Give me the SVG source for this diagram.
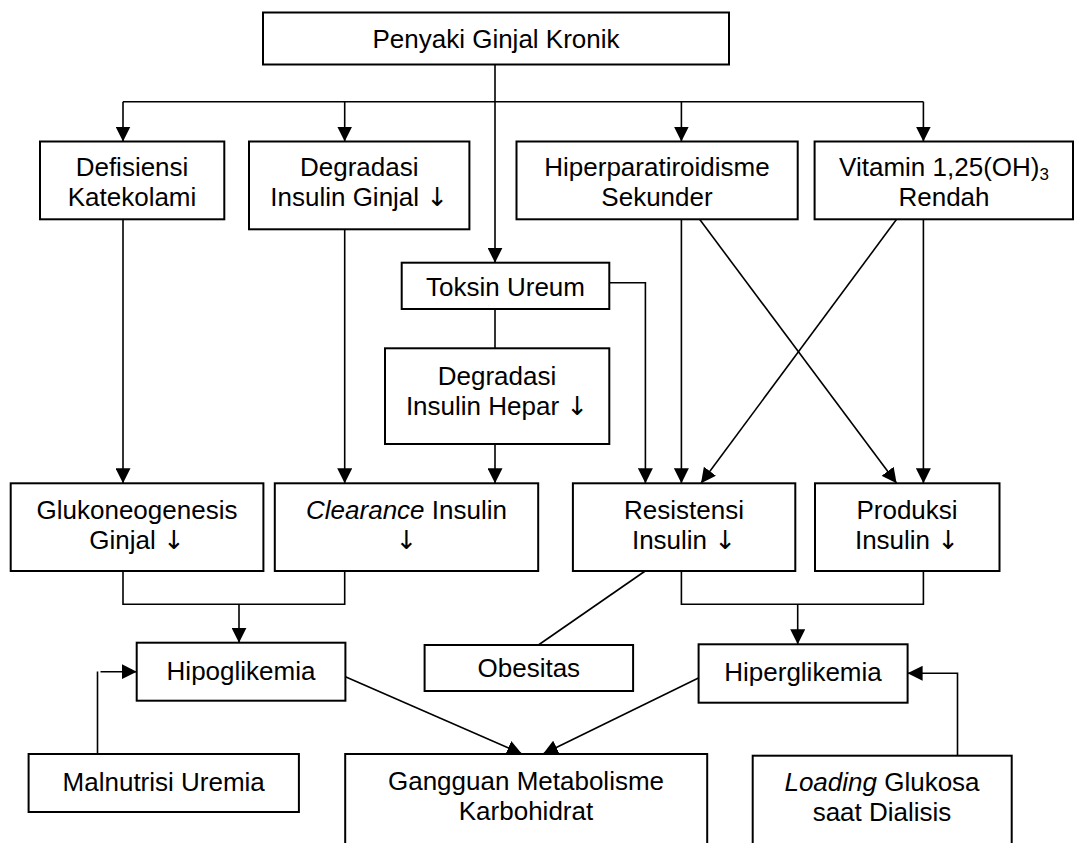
<svg xmlns="http://www.w3.org/2000/svg" width="1075" height="843" viewBox="0 0 1075 843">
<style>
.box{fill:#fff;stroke:#000;stroke-width:2}
.ln{fill:none;stroke:#000;stroke-width:1.6}
.arr{marker-end:url(#ah)}
text{font-family:"Liberation Sans",Arial,Helvetica,sans-serif;font-size:26px;fill:#000;text-anchor:middle}
.it{font-style:italic}
.dn{font-family:"DejaVu Sans",sans-serif;font-weight:normal;fill:#000}
</style>
<defs>
<marker id="ah" markerUnits="userSpaceOnUse" markerWidth="15" markerHeight="15" refX="15" refY="7.5" orient="auto" viewBox="0 0 15 15">
<path d="M0,0 L15,7.5 L0,15 z" fill="#000"/>
</marker>
</defs>
<rect width="1075" height="843" fill="#fff"/>

<g id="connectors">
<line class="ln arr" x1="495" y1="64.5" x2="495" y2="262.7"/>
<line class="ln" x1="123" y1="101.7" x2="923.4" y2="101.7"/>
<line class="ln arr" x1="123" y1="101.7" x2="123" y2="141.5"/>
<line class="ln arr" x1="344.7" y1="101.7" x2="344.7" y2="141.5"/>
<line class="ln arr" x1="681.4" y1="101.7" x2="681.4" y2="141.5"/>
<line class="ln arr" x1="923.4" y1="101.7" x2="923.4" y2="141.5"/>
<line class="ln" x1="495" y1="309" x2="495" y2="348.3"/>
<polyline class="ln arr" points="609.3,282.7 645.4,282.7 645.4,483.3"/>
<line class="ln arr" x1="495" y1="444" x2="495" y2="483.3"/>
<line class="ln arr" x1="123" y1="219.3" x2="123" y2="483.3"/>
<line class="ln arr" x1="344.7" y1="229.3" x2="344.7" y2="483.3"/>
<line class="ln arr" x1="681.4" y1="219.3" x2="681.4" y2="483.3"/>
<line class="ln arr" x1="896.6" y1="219.3" x2="701" y2="483.3"/>
<line class="ln arr" x1="699.6" y1="219.3" x2="896.6" y2="483.3"/>
<line class="ln arr" x1="923.4" y1="219.3" x2="923.4" y2="483.3"/>
<polyline class="ln" points="123,571 123,604.3 344.7,604.3 344.7,571"/>
<line class="ln arr" x1="239" y1="604.3" x2="239" y2="642.7"/>
<polyline class="ln" points="681.4,571 681.4,604.3 923.4,604.3 923.4,571"/>
<line class="ln arr" x1="797.7" y1="604.3" x2="797.7" y2="644.3"/>
<line class="ln" x1="645.2" y1="571" x2="538.4" y2="645"/>
<line class="ln" x1="97.5" y1="754" x2="97.5" y2="671.5"/>
<line class="ln arr" x1="100.5" y1="671.7" x2="136.7" y2="671.7"/>
<polyline class="ln arr" points="957.5,755.7 957.5,673.3 907.6,673.3"/>
<line class="ln arr" x1="345.4" y1="676.7" x2="522" y2="754"/>
<line class="ln arr" x1="701" y1="676.7" x2="543" y2="754"/>
</g>

<g id="n-pgk"><rect class="box" x="263" y="12.5" width="466" height="52"/><text x="496" y="47.5">Penyaki Ginjal Kronik</text></g>
<g id="n-defisiensi"><rect class="box" x="40" y="141.5" width="184.3" height="77.8"/><text x="132" y="176">Defisiensi</text><text x="132" y="206">Katekolami</text></g>
<g id="n-degginjal"><rect class="box" x="249" y="141.5" width="220.4" height="87.8"/><text x="359.2" y="176">Degradasi</text><text x="359.2" y="206">Insulin Ginjal <tspan class="dn">↓</tspan></text></g>
<g id="n-hiperpara"><rect class="box" x="516.5" y="141.5" width="281.2" height="77.8"/><text x="657" y="176">Hiperparatiroidisme</text><text x="657" y="206">Sekunder</text></g>
<g id="n-vitamin"><rect class="box" x="814.6" y="141.5" width="258.4" height="77.8"/><text x="944" y="176">Vitamin 1,25(OH)<tspan font-size="17" dy="4">3</tspan></text><text x="944" y="206">Rendah</text></g>
<g id="n-toksin"><rect class="box" x="401.7" y="262.7" width="207.6" height="46.3"/><text x="505.5" y="296">Toksin Ureum</text></g>
<g id="n-deghepar"><rect class="box" x="385" y="348.3" width="224.3" height="95.7"/><text x="497" y="385">Degradasi</text><text x="497" y="415">Insulin Hepar <tspan class="dn">↓</tspan></text></g>
<g id="n-gluko"><rect class="box" x="10.7" y="483.3" width="252.7" height="87.7"/><text x="137" y="519">Glukoneogenesis</text><text x="137" y="549">Ginjal <tspan class="dn">↓</tspan></text></g>
<g id="n-clearance"><rect class="box" x="274.8" y="483.3" width="263.4" height="87.7"/><text x="406.5" y="519"><tspan class="it">Clearance</tspan> Insulin</text><text x="406.5" y="549"><tspan class="dn">↓</tspan></text></g>
<g id="n-resistensi"><rect class="box" x="572.9" y="483.3" width="222.4" height="87.7"/><text x="684" y="519">Resistensi</text><text x="684" y="549">Insulin <tspan class="dn">↓</tspan></text></g>
<g id="n-produksi"><rect class="box" x="815" y="483.3" width="184.5" height="87.7"/><text x="907" y="519">Produksi</text><text x="907" y="549">Insulin <tspan class="dn">↓</tspan></text></g>
<g id="n-hipo"><rect class="box" x="136.7" y="642.7" width="208.7" height="58"/><text x="241" y="680">Hipoglikemia</text></g>
<g id="n-obesitas"><rect class="box" x="424.6" y="645" width="208.5" height="46"/><text x="528.8" y="677">Obesitas</text></g>
<g id="n-hiper"><rect class="box" x="698.6" y="644.3" width="209" height="58.4"/><text x="803" y="681">Hiperglikemia</text></g>
<g id="n-malnutrisi"><rect class="box" x="28.6" y="754" width="270.3" height="58"/><text x="163.7" y="791">Malnutrisi Uremia</text></g>
<g id="n-gangguan"><rect class="box" x="345.2" y="754" width="362" height="110"/><text x="526" y="790">Gangguan Metabolisme</text><text x="526" y="820">Karbohidrat</text></g>
<g id="n-loading"><rect class="box" x="752.7" y="755.7" width="259" height="110"/><text x="882" y="791"><tspan class="it">Loading</tspan> Glukosa</text><text x="882" y="821">saat Dialisis</text></g>
</svg>
